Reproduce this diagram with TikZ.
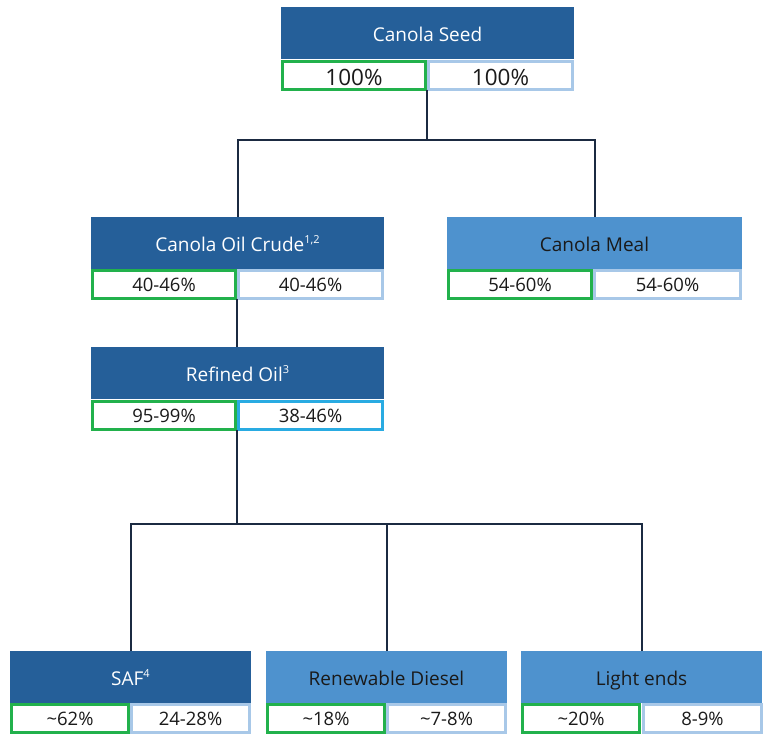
\documentclass[tikz,border=0pt]{standalone}
\usepackage{fontspec}
\setmainfont{Open Sans}
\definecolor{hdark}{RGB}{37,95,153}
\definecolor{hmid}{RGB}{78,146,206}
\definecolor{cgreen}{RGB}{34,177,76}
\definecolor{cpale}{RGB}{168,200,232}
\definecolor{ccyan}{RGB}{41,171,226}
\definecolor{wire}{RGB}{27,42,65}
\definecolor{ink}{RGB}{26,26,26}
\tikzset{
  x=1pt, y=-1pt,
  head/.style={anchor=north west, inner sep=0pt, outer sep=0pt,
    minimum height=52pt, text height=17.5pt, text depth=0pt,
    font=\fontsize{19}{22}\selectfont},
  darkhead/.style={head, fill=hdark, text=white},
  midhead/.style={head, fill=hmid, text=ink},
  cell/.style={anchor=north west, inner sep=0pt, outer sep=0pt, fill=white,
    line width=3pt, minimum height=28pt, text=ink,
    text height=14.4pt, text depth=0pt,
    font=\fontsize{18.5}{20}\selectfont},
  bigcell/.style={font=\fontsize{22.5}{24}\selectfont, text height=19pt},
  gcell/.style={cell, draw=cgreen},
  pcell/.style={cell, draw=cpale},
  ccell/.style={cell, draw=ccyan},
  link/.style={draw=wire, line width=2pt}
}
\newcommand{\upnum}[1]{\raisebox{0.42em}{\fontsize{11}{12}\selectfont #1}}
\begin{document}
\begin{tikzpicture}
\useasboundingbox (0,0) rectangle (765,736);

% Canola Seed
\node[darkhead, minimum width=293pt] (seed) at (281,7) {Canola Seed};
\node[gcell, bigcell, minimum width=143pt] (seedL) at (282.5,61.5) {100\%};
\node[pcell, bigcell, minimum width=144pt] (seedR) at (428.5,61.5) {100\%};

% Canola Oil Crude
\node[darkhead, minimum width=293pt] (crude) at (91,217) {Canola Oil Crude\upnum{1,2}};
\node[gcell, minimum width=143pt] (crudeL) at (92.5,270.5) {40-46\%};
\node[pcell, minimum width=144pt] (crudeR) at (238.5,270.5) {40-46\%};

% Canola Meal
\node[midhead, minimum width=295pt] (meal) at (447,217) {Canola Meal};
\node[gcell, minimum width=143pt] (mealL) at (448.5,270.5) {54-60\%};
\node[pcell, minimum width=146pt] (mealR) at (594.5,270.5) {54-60\%};

% Refined Oil
\node[darkhead, minimum width=293pt] (refined) at (91,347) {Refined Oil\upnum{3}};
\node[gcell, minimum width=143pt] (refinedL) at (92.5,401.5) {95-99\%};
\node[ccell, minimum width=144pt] (refinedR) at (238.5,401.5) {38-46\%};

% SAF
\node[darkhead, minimum width=241pt] (saf) at (10,651) {SAF\upnum{4}};
\node[gcell, minimum width=117pt] (safL) at (11.5,704.5) {\textasciitilde62\%};
\node[pcell, minimum width=118pt] (safR) at (131.5,704.5) {24-28\%};

% Renewable Diesel
\node[midhead, minimum width=241pt] (rd) at (266,651) {Renewable Diesel};
\node[gcell, minimum width=117pt] (rdL) at (267.5,704.5) {\textasciitilde18\%};
\node[pcell, minimum width=118pt] (rdR) at (387.5,704.5) {\textasciitilde7-8\%};

% Light ends
\node[midhead, minimum width=241pt] (le) at (521,651) {Light ends};
\node[gcell, minimum width=117pt] (leL) at (522.5,704.5) {\textasciitilde20\%};
\node[pcell, minimum width=118pt] (leR) at (643.5,704.5) {8-9\%};

% branch levels
\coordinate (lv1) at (0,140);
\coordinate (lv2) at (0,524);
\coordinate (j1) at ([xshift=1.5pt]seedL.south east |- lv1);
\coordinate (j2) at ([xshift=1.5pt]refinedL.south east |- lv2);

% tree links
\draw[link] ([xshift=1.5pt]seedL.south east) -- (j1);
\draw[link] (j1) -| (crude.north);
\draw[link] (j1) -| (meal.north);
\draw[link] ([xshift=1.5pt]crudeL.south east) -- ([xshift=1.5pt]crudeL.south east |- refined.north);
\draw[link] ([xshift=1.5pt]refinedL.south east) -- (j2);
\draw[link] (j2) -| (saf.north);
\draw[link] (j2) -| (le.north);
\draw[link] (rd.north) -- (rd.north |- j2);
\end{tikzpicture}
\end{document}
